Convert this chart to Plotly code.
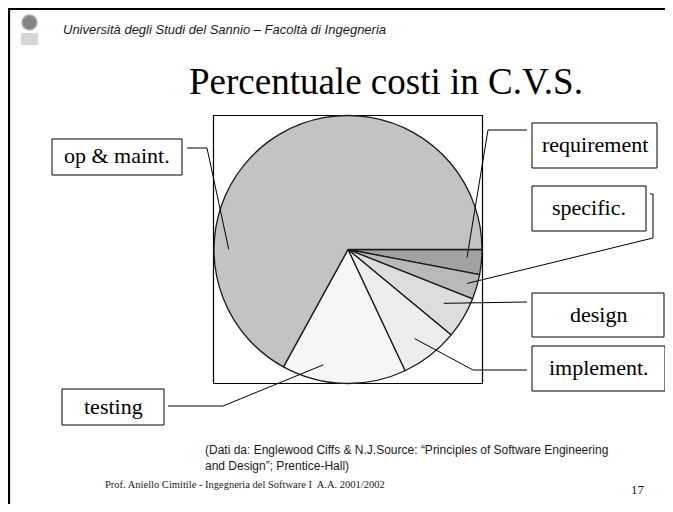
import math
import plotly.graph_objects as go

# ---- data ----
phases = ["requirement", "specific.", "design", "implement.", "testing", "op & maint."]
cost_pct = [3, 3, 5, 7, 15, 67]
slice_colors = ["#a2a2a2", "#b9b9b9", "#dddddd", "#ededed", "#f6f6f6", "#c3c3c3"]

title_text = "Percentuale costi in C.V.S."
header_text = "Università degli Studi del Sannio – Facoltà di Ingegneria"
source_text = ("(Dati da: Englewood Ciffs & N.J.Source: \u201cPrinciples of Software Engineering"
               "<br>and Design\u201d; Prentice-Hall)")
footer_text = "Prof. Aniello Cimitile - Ingegneria del Software I  A.A. 2001/2002"
page_no = "17"

# figure size (fits inside the page body margins)
W, H = 665, 496
OFF = 8  # page body margin

# screen pixel -> paper
def px(x):
    return (x - OFF) / W

def py(y):
    return 1 - (y - OFF) / H

# pie placement (screen pixels)
pie_box = (213.5, 115.5, 482.5, 383.5)  # x0, y0, x1, y1
cx = (pie_box[0] + pie_box[2]) / 2
cy = (pie_box[1] + pie_box[3]) / 2
R = min(pie_box[2] - pie_box[0], pie_box[3] - pie_box[1]) / 2

fig = go.Figure()
fig.add_trace(go.Pie(
    labels=phases,
    values=cost_pct,
    sort=False,
    direction="clockwise",
    rotation=90,
    textinfo="none",
    hoverinfo="label+percent",
    marker=dict(colors=slice_colors, line=dict(color="#1a1a1a", width=1.3)),
    domain=dict(x=[px(pie_box[0]), px(pie_box[2])], y=[py(pie_box[3]), py(pie_box[1])]),
    showlegend=False,
))

shapes = []
annotations = []

# slide frame (top and left)
shapes.append(dict(type="line", xref="paper", yref="paper", x0=px(9), x1=1.0, y0=py(9), y1=py(9),
                   line=dict(color="black", width=2.2)))
shapes.append(dict(type="line", xref="paper", yref="paper", x0=px(9), x1=px(9), y0=py(8), y1=0.0,
                   line=dict(color="black", width=2.2)))

# logo (small emblem)
shapes.append(dict(type="circle", xref="paper", yref="paper", x0=px(22), x1=px(37), y0=py(30), y1=py(15),
                   line=dict(color="#b0b0b0", width=1.5), fillcolor="#858585"))
shapes.append(dict(type="rect", xref="paper", yref="paper", x0=px(21), x1=px(38), y0=py(45), y1=py(33),
                   line=dict(width=0), fillcolor="#d6d6d6"))

# frame around the pie
shapes.append(dict(type="rect", xref="paper", yref="paper",
                   x0=px(pie_box[0]), x1=px(pie_box[2]), y0=py(pie_box[3]), y1=py(pie_box[1]),
                   line=dict(color="black", width=1.2), layer="below"))

# label boxes (screen pixels): x0, y0, x1, y1
label_boxes = {
    "requirement": (532, 123, 657, 168),
    "specific.": (532, 186, 646, 231),
    "design": (532, 293, 664, 337),
    "implement.": (532, 346, 665, 391),
    "testing": (62, 389, 164, 425),
    "op & maint.": (52, 139, 182, 175),
}
# leader elbow points (outside the pie) and position of the tip within its slice
leader_start = {
    "requirement": [(527, 130), (488, 130)],
    "specific.": [(650, 194), (653, 194), (653, 238)],
    "design": [(527, 302)],
    "implement.": [(527, 370), (473, 370)],
    "testing": [(168, 406), (223, 406)],
    "op & maint.": [(187, 148), (207, 148)],
}
tip_frac = {"requirement": (0.35, 0.89), "specific.": (0.47, 0.925), "design": (0.43, 0.82),
            "implement.": (0.54, 0.83), "testing": (0.69, 0.88), "op & maint.": (0.254, 0.89)}

total = sum(cost_pct)
cum = 0.0
for name, val in zip(phases, cost_pct):
    a0 = cum / total * 360
    a1 = (cum + val) / total * 360
    cum += val
    t, rr = tip_frac[name]
    ang = math.radians(a0 + t * (a1 - a0))  # clockwise from 3 o'clock (screen y down)
    tip = (cx + rr * R * math.cos(ang), cy + rr * R * math.sin(ang))
    pts = leader_start[name] + [tip]
    path = "M " + " L ".join(f"{px(x):.5f},{py(y):.5f}" for x, y in pts)
    shapes.append(dict(type="path", xref="paper", yref="paper", path=path,
                       line=dict(color="black", width=1)))
    bx0, by0, bx1, by1 = label_boxes[name]
    shapes.append(dict(type="rect", xref="paper", yref="paper", x0=px(bx0), x1=px(bx1), y0=py(by1), y1=py(by0),
                       line=dict(color="black", width=1), fillcolor="white"))
    annotations.append(dict(xref="paper", yref="paper", x=px((bx0 + bx1) / 2), y=py((by0 + by1) / 2 - 1),
                            text=name, showarrow=False, xanchor="center", yanchor="middle",
                            font=dict(family="Liberation Serif", size=22, color="black")))

# texts
annotations.append(dict(xref="paper", yref="paper", x=px(61), y=py(29), text="<i>" + header_text + "</i>",
                        showarrow=False, xanchor="left", yanchor="middle",
                        font=dict(family="Liberation Sans", size=13, color="#1a1a1a")))
annotations.append(dict(xref="paper", yref="paper", x=px(385.5), y=py(82), text=title_text,
                        showarrow=False, xanchor="center", yanchor="middle",
                        font=dict(family="Liberation Serif", size=37, color="black")))
annotations.append(dict(xref="paper", yref="paper", x=px(203), y=py(458), text=source_text,
                        showarrow=False, xanchor="left", yanchor="middle", align="left",
                        font=dict(family="Liberation Sans", size=12, color="#1a1a1a")))
annotations.append(dict(xref="paper", yref="paper", x=px(103), y=py(484), text=footer_text,
                        showarrow=False, xanchor="left", yanchor="middle",
                        font=dict(family="Liberation Serif", size=10.5, color="#1a1a1a")))
annotations.append(dict(xref="paper", yref="paper", x=px(638), y=py(489), text=page_no,
                        showarrow=False, xanchor="center", yanchor="middle",
                        font=dict(family="Liberation Serif", size=13, color="#1a1a1a")))

fig.update_layout(
    width=W, height=H,
    margin=dict(l=0, r=0, t=0, b=0),
    paper_bgcolor="white", plot_bgcolor="white",
    shapes=shapes, annotations=annotations,
    showlegend=False,
)

fig.write_html("out.html")
